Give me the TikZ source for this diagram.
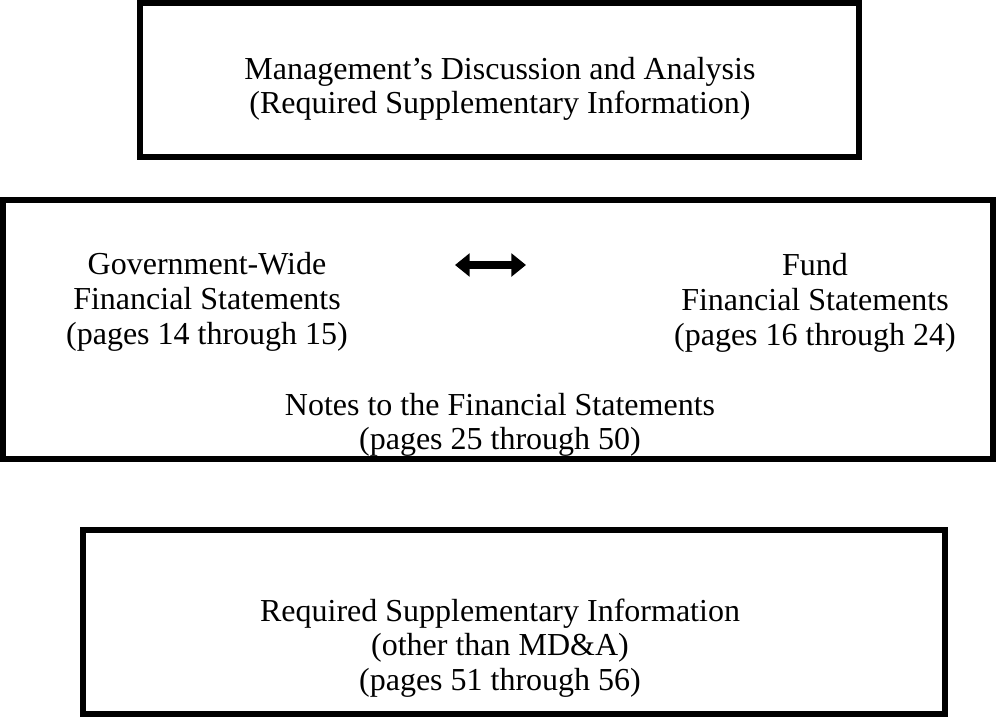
\documentclass[tikz,border=0pt]{standalone}
\usepackage{fontspec}
\setmainfont{Liberation Serif}
\usepackage{tikz}
\usetikzlibrary{arrows.meta}

\begin{document}
\begin{tikzpicture}[x=0.75pt,y=-0.75pt]
                \tikzstyle{frame}=[draw=black, line width=4.5pt]
                \tikzstyle{caption}=[align=center, inner sep=0pt, font=\fontsize{24}{26}\selectfont]
                \tikzstyle{link} = [draw, line width=6pt, {Triangle[length=11pt,width=17pt]}-{Triangle[length=11pt,width=17pt]}]

                \useasboundingbox (0,0) rectangle (996,717);

                % the three boxes
                \draw[frame] (140,3) rectangle (859,157);
                \draw[frame] (3,200) rectangle (993,459);
                \draw[frame] (83,530) rectangle (945,714);

                \node[caption] (mda) at (500,89) {Management's Discussion and Analysis\\(Required Supplementary Information)};
                \node[caption] (gov) at (207,302) {Government-Wide\\Financial Statements\\(pages 14 through 15)};
                \node[caption] (fund) at (815,303) {Fund\\Financial Statements\\(pages 16 through 24)};
                \node[caption] (notes) at (500,425) {Notes to the Financial Statements\\(pages 25 through 50)};
                \node[caption] (rsi) at (500,648) {Required Supplementary Information\\(other than MD\&A)\\(pages 51 through 56)};

                \coordinate (l) at (455,265);
                \coordinate (r) at (526,265);
                \path[link] (l) -- (r);
            \end{tikzpicture}
\end{document}
